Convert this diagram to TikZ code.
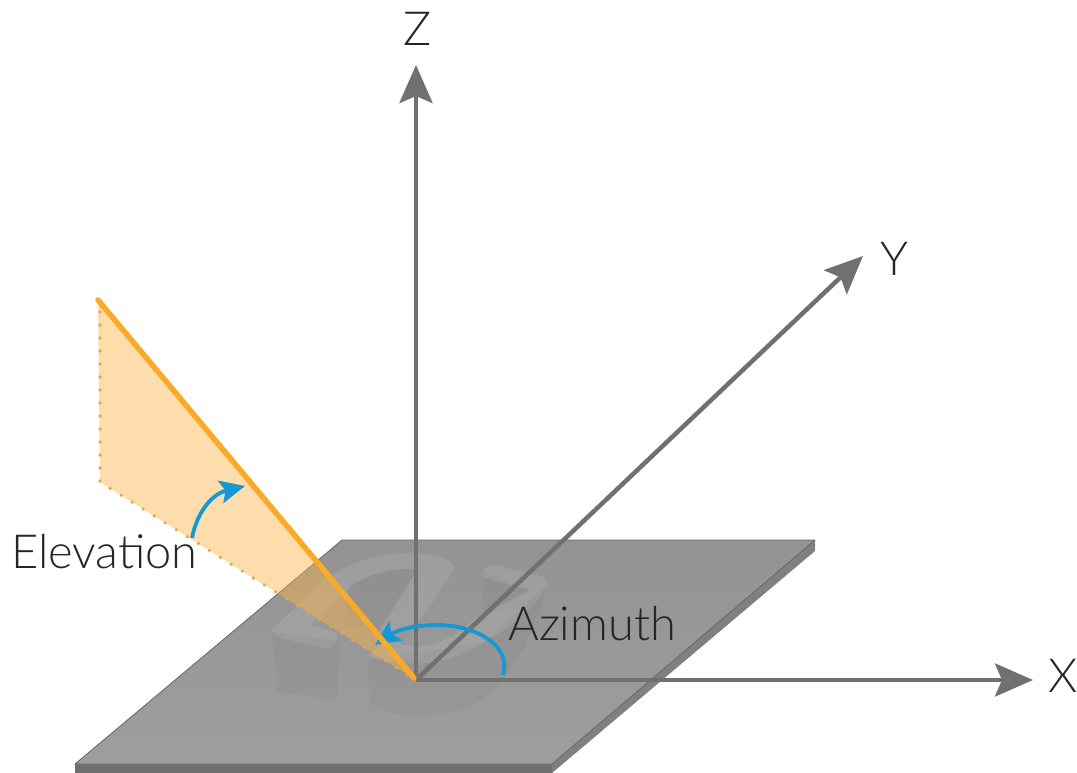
\documentclass[tikz,border=0pt]{standalone}
\usepackage{fontspec}
\usepackage{xcolor}
\usepackage{tikz}
\usetikzlibrary{arrows.meta,positioning,calc}
\setmainfont[UprightFont={* Light}]{Lato}
\definecolor{axisgray}{RGB}{112,112,112}
\definecolor{plategray}{RGB}{158,158,158}
\definecolor{platefront}{RGB}{110,110,110}
\definecolor{plateside}{RGB}{128,128,128}
\definecolor{beamorange}{RGB}{248,170,40}
\definecolor{planeorange}{RGB}{250,180,70}
\definecolor{dotorange}{RGB}{230,165,80}
\definecolor{anglblue}{RGB}{22,152,214}

\begin{document}
\begin{tikzpicture}[x=1pt, y=-1pt, >=Stealth,
  every node/.style={font=\fontsize{47}{47}\selectfont, text=black!85, inner sep=0pt},
  axisarrow/.style={draw=axisgray, line width=4.5pt, -{Stealth[length=38pt,width=33pt,inset=7pt]}},
  anglearrow/.style={draw=anglblue, line width=3.8pt, -{Stealth[length=25pt,width=23pt,inset=5pt]}},
  ghostface/.style={fill=white, fill opacity=0.09},
  ghostwall/.style={fill=black, fill opacity=0.03}]
\useasboundingbox (0,0) rectangle (1077,773);
% plate
\coordinate (pa) at (342,540);
\coordinate (pb) at (815,540);
\coordinate (pc) at (552,764);
\coordinate (pd) at (75,764);
\fill[platefront] (pd) -- (pc) -- (552,773) -- (75,773) -- cycle;
\fill[plateside] (pc) -- (pb) -- (815,551) -- (552,773) -- cycle;
\draw[black!60, line width=0.8pt, top color=plategray!93!black, bottom color=plategray, shading angle=0, line join=round] (pa) -- (pb) -- (pc) -- (pd) -- cycle;
% raised letters on the plate
\fill[ghostwall] (272,632) -- (278,692) -- (337,700) -- (340,640) -- cycle;
\fill[ghostwall] (367,660) -- (370,702) .. controls (385,718) and (430,720) .. (465,708) .. controls (500,695) and (530,650) .. (547,585) -- (483,643) -- cycle;
\fill[ghostwall] (350,587) .. controls (362,576) and (395,566) .. (417,570) -- (380,632) -- (345,625) -- cycle;
\fill[ghostwall] (482,572) -- (484,617) -- (530,590) -- cycle;
\fill[ghostface] (272,630) -- (308,595) .. controls (335,565) and (375,553) .. (410,553) .. controls (430,553) and (450,556) .. (455,568) -- (423,617) -- (388,640) -- (378,632) -- (417,570) .. controls (395,566) and (362,576) .. (350,587) -- (310,625) -- (335,632) .. controls (342,640) and (335,648) .. (325,648) -- (275,637) -- cycle;
\fill[ghostface] (423,617) -- (392,640) .. controls (400,646) and (420,648) .. (437,643) .. controls (455,636) and (465,628) .. (477,617) -- (530,590) -- (482,577) .. controls (480,570) and (488,565) .. (497,565) -- (543,577) .. controls (549,581) and (549,586) .. (545,590) .. controls (530,610) and (510,628) .. (483,643) .. controls (460,657) and (435,664) .. (417,663) .. controls (400,663) and (380,662) .. (367,655) -- (392,640) -- cycle;
% elevation plane
\coordinate (orig) at (416,680);
\coordinate (beam) at (98,300);
\coordinate (foot) at (100,482);
\fill[planeorange, fill opacity=0.45] (beam) -- (foot) -- (orig) -- cycle;
\draw[dotorange, line width=3.6pt, line cap=round, dash pattern=on 0pt off 13pt] (100,312) -- (foot) -- (orig);
% axes
\coordinate (ztip) at (416,65);
\coordinate (ytip) at (863,256);
\coordinate (xtip) at (1033,680);
\draw[axisarrow] (orig) -- (ztip);
\draw[axisarrow] (orig) -- (ytip);
\draw[axisarrow] (orig) -- (xtip);
% angles
\coordinate (azstart) at (503,675);
\coordinate (aztop) at (437,625);
\coordinate (azend) at (375,645);
\coordinate (elstart) at (192,538);
\coordinate (elend) at (245,486);
\draw[anglearrow] (azstart) .. controls (512,645) and (475,625) .. (aztop) .. controls (415,625) and (397,630) .. (azend);
\draw[anglearrow] (elstart) .. controls (197,512) and (212,494) .. (elend);
\draw[beamorange, line width=5.5pt, line cap=round] (beam) -- (414,678);
% labels
\node[anchor=base] (zlabel) at (418,46) {Z};
\node[anchor=base] (ylabel) at (894,275) {Y};
\node[anchor=base] (xlabel) at (1063,692) {X};
\node[anchor=base west] (elevation) at (11,568) {Elevation};
\node[anchor=base west] (azimuth) at (508,640) {Azimuth};
\end{tikzpicture}
\end{document}
